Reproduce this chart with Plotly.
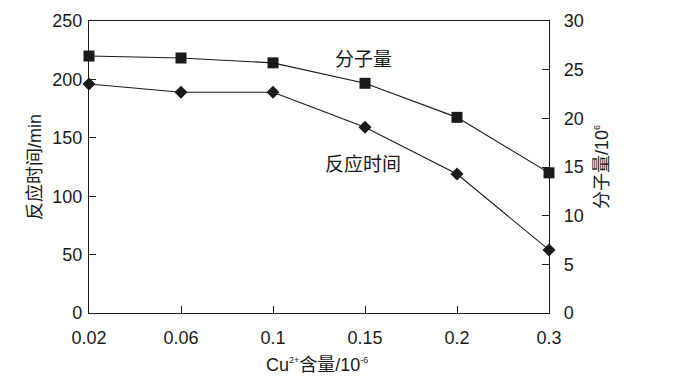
import plotly.graph_objects as go

categories = ["0.02", "0.06", "0.1", "0.15", "0.2", "0.3"]
reaction_time = [196, 189, 189, 159, 119, 54]          # min, left axis
molecular_weight = [26.4, 26.2, 25.7, 23.6, 20.1, 14.4]  # 10^6, right axis

FONT = "Liberation Sans, Arial, Noto Sans CJK SC, sans-serif"
INK = "#1a1a1a"

fig = go.Figure()
fig.add_trace(go.Scatter(
    x=categories, y=molecular_weight, yaxis="y2", mode="lines+markers",
    line=dict(color=INK, width=1.1),
    marker=dict(symbol="square", size=11, color=INK),
    cliponaxis=False, name="分子量", showlegend=False))
fig.add_trace(go.Scatter(
    x=categories, y=reaction_time, mode="lines+markers",
    line=dict(color=INK, width=1.1),
    marker=dict(symbol="diamond", size=10, color=INK),
    cliponaxis=False, name="反应时间", showlegend=False))

axis_common = dict(showline=True, linecolor=INK, linewidth=1.2,
                   ticks="inside", ticklen=7, tickcolor=INK, tickwidth=1,
                   showgrid=False, zeroline=False,
                   tickfont=dict(family=FONT, size=18, color=INK))

L, R, T, B = 89, 549, 21, 313
fig.update_layout(
    width=690, height=384,
    margin=dict(l=L, r=690 - R, t=T, b=384 - B),
    paper_bgcolor="white", plot_bgcolor="white",
    font=dict(family=FONT, color=INK),
    xaxis=dict(type="category", range=[0, 5], mirror=True, ticklabelstandoff=8, **axis_common),
    yaxis=dict(range=[0, 250], dtick=50, ticklabelstandoff=2, **axis_common),
    yaxis2=dict(range=[0, 30], dtick=5, overlaying="y", side="right", ticklabelstandoff=10, **axis_common),
)

pw, ph = R - L, B - T
def px(x):
    return (x - L) / pw
def py(y):
    return (B - y) / ph

def ann(text, x, y, size=18, angle=0):
    fig.add_annotation(text=text, x=px(x), y=py(y), xref="paper", yref="paper",
                       xanchor="center", yanchor="middle",
                       showarrow=False, textangle=angle,
                       font=dict(family=FONT, size=size, color=INK))

SUP = "<sup><span style='font-size:9px'>{}</span></sup>"
ann("分子量", 363, 60, size=19)
ann("反应时间", 363, 164, size=19)
ann("反应时间/min", 35, 167, size=18, angle=-90)
ann("分子量/10" + SUP.format("6"), 602, 167, size=18, angle=-90)
ann("Cu" + SUP.format("2+") + "含量/10" + SUP.format("-6"), 317, 365, size=18)

fig.write_html("out.html", config={"displayModeBar": False},
               post_script="document.body.style.margin='0';")
